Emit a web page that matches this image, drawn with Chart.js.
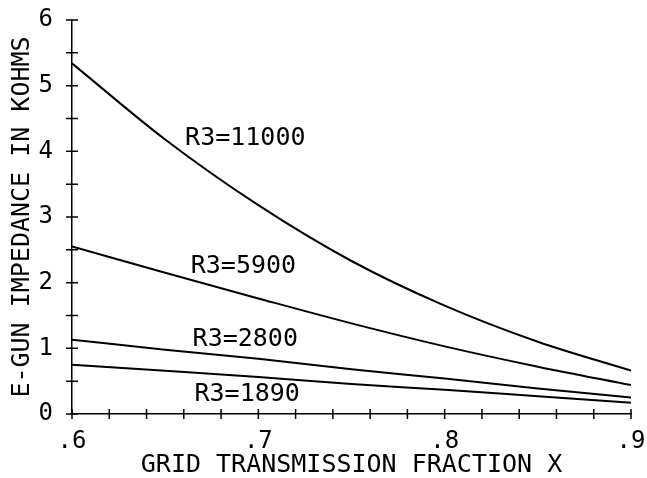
<!DOCTYPE html>
<html>
<head>
<meta charset="utf-8">
<script src="https://cdn.jsdelivr.net/npm/chart.js@4.4.1/dist/chart.umd.min.js"></script>
<style>
  html, body { margin: 0; padding: 0; background: #fff; }
  #wrap { width: 647px; height: 478px; position: relative; }
</style>
</head>
<body>
<div id="wrap"><canvas id="chart"></canvas></div>
<script>
// Grid transmission fraction X
const xValues = [0.6, 0.65, 0.7, 0.75, 0.8, 0.85, 0.9];

// E-gun impedance in kohms, one list per R3
const r3_11000 = [5.34, 4.18, 3.18, 2.33, 1.65, 1.10, 0.66];
const r3_5900 = [2.55, 2.15, 1.76, 1.38, 1.03, 0.72, 0.44];
const r3_2800 = [1.13, 0.98, 0.84, 0.68, 0.54, 0.39, 0.25];
const r3_1890 = [0.75, 0.66, 0.565, 0.455, 0.37, 0.27, 0.17];

const seriesNames = ['R3=11000', 'R3=5900', 'R3=2800', 'R3=1890'];
const seriesValues = [r3_11000, r3_5900, r3_2800, r3_1890];

// where each curve's name sits, in data units
const labelX = [0.693, 0.692, 0.693, 0.694];
const labelY = [4.2, 2.25, 1.14, 0.30];

const FONT = 'DejaVu Sans Mono';

// tick marks that cross the axis line, plus the curve names
const crossTicks = {
    id: 'crossTicks',
    afterDraw(chart) {
        const ctx = chart.ctx;
        const xs = chart.scales.x;
        const ys = chart.scales.y;
        const area = chart.chartArea;
        ctx.save();
        ctx.strokeStyle = '#000';
        ctx.lineWidth = 1.5;
        ctx.beginPath();
        ys.ticks.forEach(t => {
            const py = ys.getPixelForValue(t.value);
            ctx.moveTo(area.left - 6, py);
            ctx.lineTo(area.left + 6, py);
        });
        xs.ticks.forEach(t => {
            const px = xs.getPixelForValue(t.value);
            ctx.moveTo(px, area.bottom - 5);
            ctx.lineTo(px, area.bottom + 5);
        });
        ctx.stroke();

        ctx.fillStyle = '#000';
        ctx.font = '25px "' + FONT + '"';
        ctx.textAlign = 'center';
        ctx.textBaseline = 'middle';
        seriesNames.forEach((name, i) => {
            ctx.fillText(name, xs.getPixelForValue(labelX[i]), ys.getPixelForValue(labelY[i]));
        });
        ctx.restore();
    }
};

const isTenth = v => Math.abs(v * 10 - Math.round(v * 10)) < 1e-6;

new Chart(document.getElementById('chart'), {
    type: 'line',
    data: {
        datasets: seriesValues.map((vals, i) => ({
            label: seriesNames[i],
            data: xValues.map((x, j) => ({ x: x, y: vals[j] })),
            borderColor: '#000',
            borderWidth: 2,
            pointRadius: 0,
            cubicInterpolationMode: 'monotone',
            fill: false
        }))
    },
    options: {
        responsive: true,
        maintainAspectRatio: false,
        animation: false,
        layout: { padding: { left: 0, right: 16, top: 20, bottom: 0 } },
        plugins: { legend: { display: false }, tooltip: { enabled: false } },
        scales: {
            x: {
                type: 'linear',
                min: 0.6,
                max: 0.9,
                afterFit: s => { s.height = 64; s.paddingLeft = 0; s.paddingRight = 0; },
                grid: { drawOnChartArea: false, drawTicks: false },
                border: { display: true, color: '#000', width: 1.5 },
                ticks: {
                    stepSize: 0.02,
                    autoSkip: false,
                    maxRotation: 0,
                    padding: 13,
                    color: '#000',
                    font: { family: FONT, size: 24 },
                    callback: v => isTenth(v) ? '.' + Math.round(v * 10) : ''
                },
                title: {
                    display: true,
                    text: 'GRID TRANSMISSION FRACTION X',
                    color: '#000',
                    font: { family: FONT, size: 25, lineHeight: 1 },
                    padding: { top: 0, bottom: 0 }
                }
            },
            y: {
                min: 0,
                max: 6,
                afterFit: s => { s.width = 72; s.paddingTop = 0; s.paddingBottom = 0; },
                grid: { drawOnChartArea: false, drawTicks: false },
                border: { display: true, color: '#000', width: 1.5 },
                ticks: {
                    stepSize: 0.5,
                    autoSkip: false,
                    padding: 19,
                    color: '#000',
                    font: { family: FONT, size: 24 },
                    callback: v => Number.isInteger(v) ? String(v) : ''
                },
                title: {
                    display: true,
                    text: 'E-GUN IMPEDANCE IN KOHMS',
                    color: '#000',
                    font: { family: FONT, size: 25, lineHeight: 1 },
                    padding: { top: 10, bottom: 0 }
                }
            }
        }
    },
    plugins: [crossTicks]
});
</script>
</body>
</html>
